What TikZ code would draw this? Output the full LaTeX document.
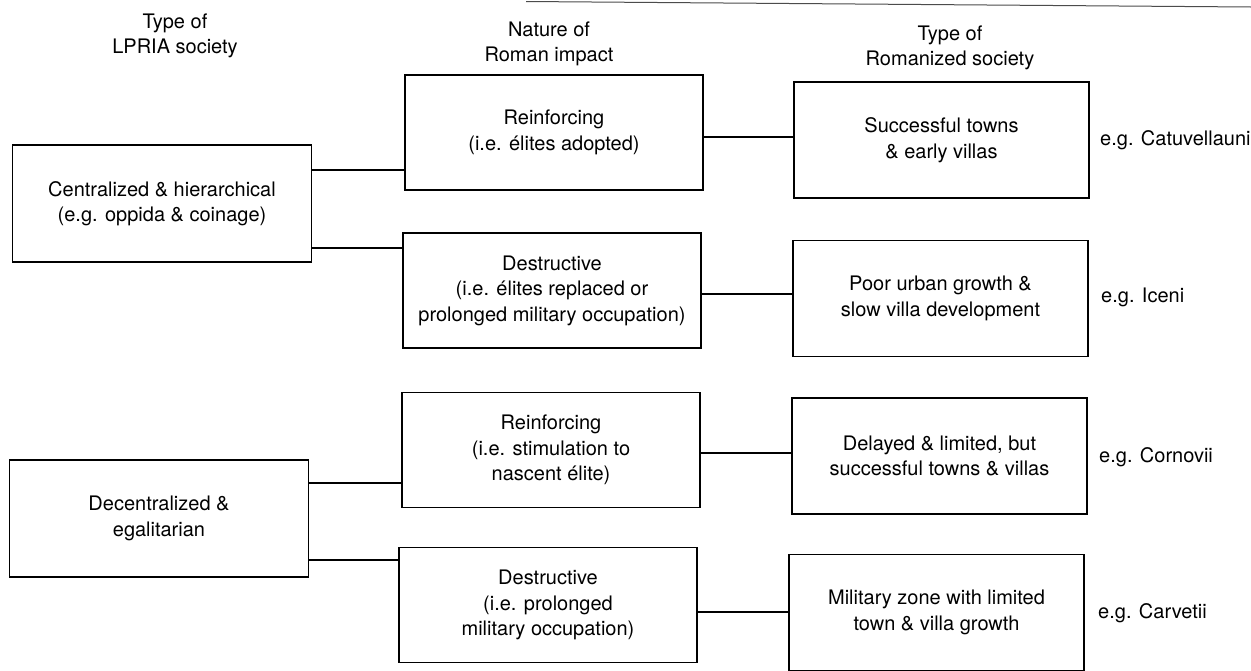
\documentclass[tikz,border=0pt]{standalone}
\usepackage{fontspec}
\setmainfont{TeX Gyre Heros}
\begin{document}
\begin{tikzpicture}[x=1pt,y=-1pt,
  box/.style={draw, line width=1.2pt, align=center, inner sep=0pt,
    font=\fontsize{20}{25.5}\selectfont},
  lbox/.style={box, minimum width=299pt, minimum height=117pt},
  mbox/.style={box, minimum width=298pt, minimum height=115pt},
  rbox/.style={box, minimum width=295pt, minimum height=116pt},
  head/.style={align=center, inner sep=0pt, font=\fontsize{20}{25}\selectfont},
  eg/.style={anchor=west, inner sep=0pt, font=\fontsize{20}{25}\selectfont},
  link/.style={line width=1.2pt}]
\useasboundingbox[fill=white] (0,0) rectangle (1251,670);
\draw[black!70, line width=1pt] (526,1.5) -- (1251,7);

\node[head] (h1) at (175,36) {Type of\\LPRIA society};
\node[head] (h2) at (549,44) {Nature of\\Roman impact};
\node[head] (h3) at (950,48) {Type of\\Romanized society};

\node[lbox] (L1) at (162,203.5) {Centralized \& hierarchical\\(e.g. oppida \& coinage)};
\node[mbox] (M1) at (554,132.5) {Reinforcing\\(i.e. élites adopted)};
\node[mbox] (M2) at (552,290.5) {Destructive\\(i.e. élites replaced or\\prolonged military occupation)};
\node[rbox] (R1) at (941.5,140) {Successful towns\\\& early villas};
\node[rbox] (R2) at (940.5,298.5) {Poor urban growth \&\\slow villa development};

\node[lbox] (L2) at (159,518.5) {Decentralized \&\\egalitarian};
\node[mbox] (M3) at (551,450) {Reinforcing\\(i.e. stimulation to\\nascent élite)};
\node[mbox] (M4) at (548,605) {Destructive\\(i.e. prolonged\\military occupation)};
\node[rbox] (R3) at (939.5,456) {Delayed \& limited, but\\successful towns \& villas};
\node[rbox] (R4) at (936.5,612.5) {Military zone with limited\\town \& villa growth};

\node[eg] (e1) at (1100,140) {e.g. Catuvellauni};
\node[eg] (e2) at (1101,297) {e.g. Iceni};
\node[eg] (e3) at (1099,457) {e.g. Cornovii};
\node[eg] (e4) at (1098,613) {e.g. Carvetii};

\coordinate (y1) at (0,170);
\coordinate (y2) at (0,248);
\coordinate (y3) at (0,137);
\coordinate (y4) at (0,294);
\coordinate (y5) at (0,483);
\coordinate (y6) at (0,560);
\coordinate (y7) at (0,453);
\coordinate (y8) at (0,612);

\draw[link] (L1.east |- y1) -- (M1.west |- y1);
\draw[link] (L1.east |- y2) -- (M2.west |- y2);
\draw[link] (M1.east |- y3) -- (R1.west |- y3);
\draw[link] (M2.east |- y4) -- (R2.west |- y4);
\draw[link] (L2.east |- y5) -- (M3.west |- y5);
\draw[link] (L2.east |- y6) -- (M4.west |- y6);
\draw[link] (M3.east |- y7) -- (R3.west |- y7);
\draw[link] (M4.east |- y8) -- (R4.west |- y8);
\end{tikzpicture}
\end{document}
